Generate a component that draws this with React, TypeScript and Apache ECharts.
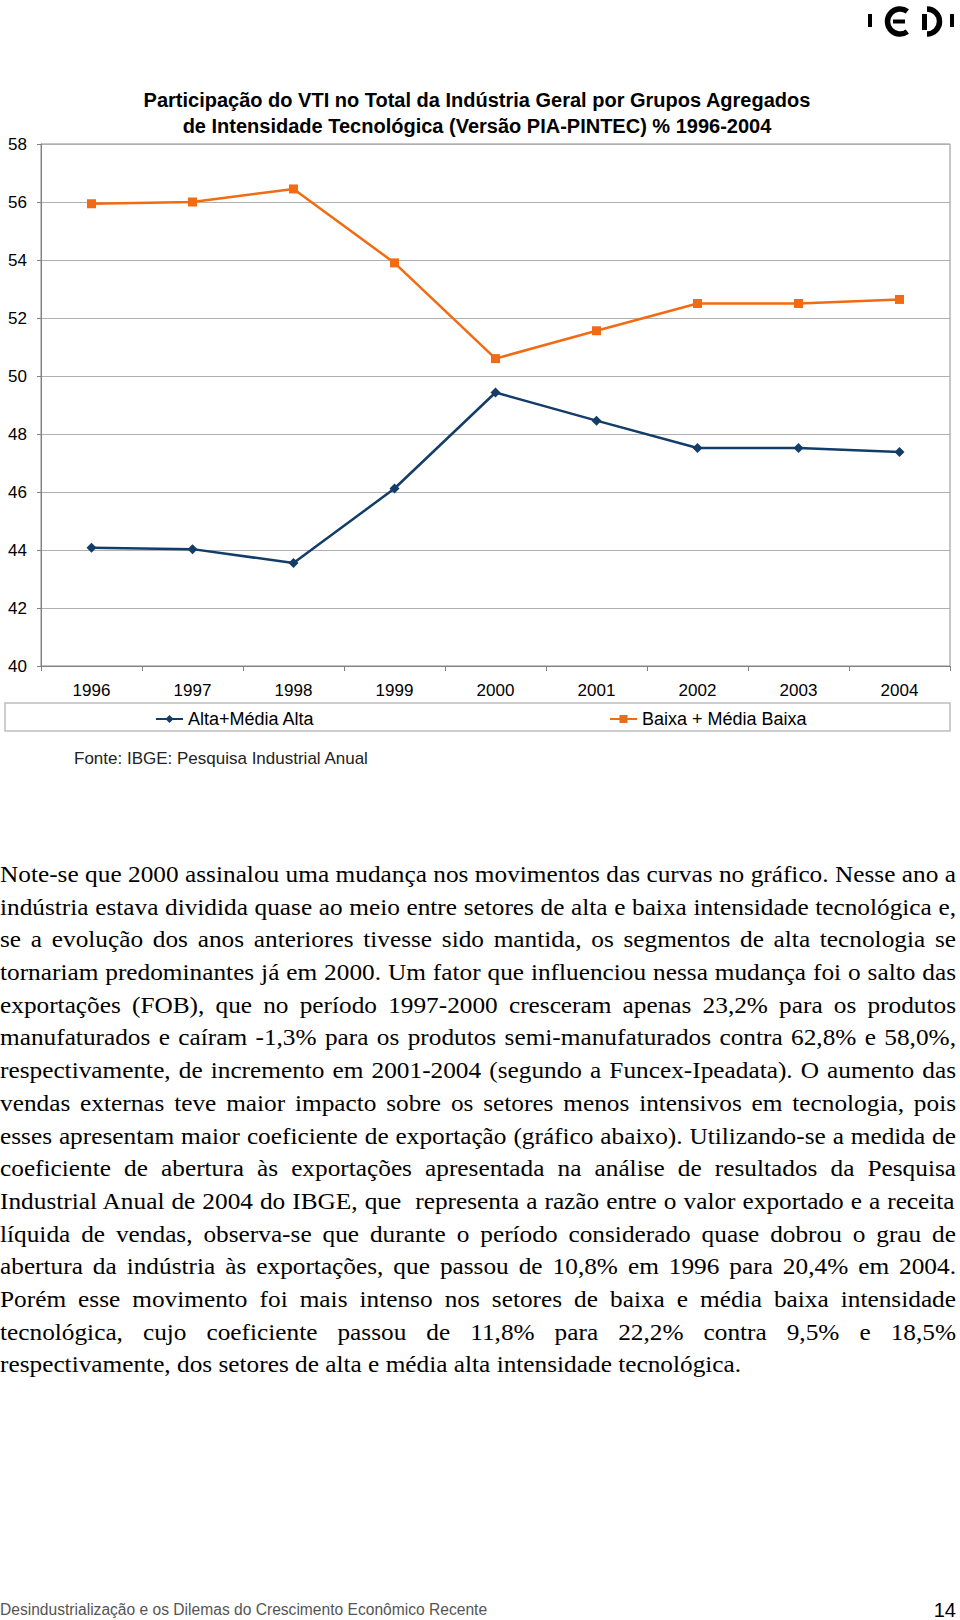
import React, { useEffect, useRef, useMemo } from 'react';
import * as echarts from 'echarts';

const years = ['1996', '1997', '1998', '1999', '2000', '2001', '2002', '2003', '2004'];
const altaMediaAlta = [44.08, 44.03, 43.55, 46.12, 49.43, 48.46, 47.52, 47.52, 47.38];
const baixaMediaBaixa = [55.94, 56.0, 56.45, 53.9, 50.6, 51.56, 52.5, 52.5, 52.64];
const seriesNames = ['Alta+Média Alta', 'Baixa + Média Baixa'];
const titleLines = [
  'Participação do VTI no Total da Indústria Geral por Grupos Agregados',
  'de Intensidade Tecnológica (Versão PIA-PINTEC) % 1996-2004',
];
const sourceText = 'Fonte: IBGE: Pesquisa Industrial Anual';
const footerText = 'Desindustrialização e os Dilemas do Crescimento Econômico Recente';
const pageNumber = '14';
const paragraphLines = [
  'Note-se que 2000 assinalou uma mudança nos movimentos das curvas no gráfico. Nesse ano a',
  'indústria estava dividida quase ao meio entre setores de alta e baixa intensidade tecnológica e,',
  'se a evolução dos anos anteriores tivesse sido mantida, os segmentos de alta tecnologia se',
  'tornariam predominantes já em 2000. Um fator que influenciou nessa mudança foi o salto das',
  'exportações (FOB), que no período 1997-2000 cresceram apenas 23,2% para os produtos',
  'manufaturados e caíram -1,3% para os produtos semi-manufaturados contra 62,8% e 58,0%,',
  'respectivamente, de incremento em 2001-2004 (segundo a Funcex-Ipeadata). O aumento das',
  'vendas externas teve maior impacto sobre os setores menos intensivos em tecnologia, pois',
  'esses apresentam maior coeficiente de exportação (gráfico abaixo). Utilizando-se a medida de',
  'coeficiente de abertura às exportações apresentada na análise de resultados da Pesquisa',
  'Industrial Anual de 2004 do IBGE, que  representa a razão entre o valor exportado e a receita',
  'líquida de vendas, observa-se que durante o período considerado quase dobrou o grau de',
  'abertura da indústria às exportações, que passou de 10,8% em 1996 para 20,4% em 2004.',
  'Porém esse movimento foi mais intenso nos setores de baixa e média baixa intensidade',
  'tecnológica, cujo coeficiente passou de 11,8% para 22,2% contra 9,5% e 18,5%',
  'respectivamente, dos setores de alta e média alta intensidade tecnológica.',
];

const SANS = '"Liberation Sans", Arial, sans-serif';
const SERIF = '"Liberation Serif", "Times New Roman", serif';
const BLUE = '#123d68';
const ORANGE = '#f26b12';

const PARA_FONT = 23;
const PARA_SCALE = 1.1;
const PARA_WIDTH = 956;

export default function App() {
  const ref = useRef<HTMLDivElement>(null);

  const spacings = useMemo(() => {
    const canvas = document.createElement('canvas');
    const ctx = canvas.getContext('2d');
    const inner = PARA_WIDTH / PARA_SCALE;
    return paragraphLines.map((t, i) => {
      if (!ctx || i === paragraphLines.length - 1) return 0;
      ctx.font = `${PARA_FONT}px "Liberation Serif"`;
      const w = ctx.measureText(t).width;
      const n = (t.match(/ /g) || []).length;
      return n > 0 ? (inner - w) / n : 0;
    });
  }, []);

  useEffect(() => {
    if (!ref.current) return;
    const chart = echarts.init(ref.current, null, { renderer: 'svg' });
    const legendCommon = {
      top: 710,
      padding: 0,
      itemWidth: 27,
      itemHeight: 10,
      itemGap: 10,
      textStyle: { fontSize: 18, color: '#000', fontFamily: SANS },
    };
    chart.setOption({
      animation: false,
      backgroundColor: '#fff',
      textStyle: { fontFamily: SANS },
      grid: {
        left: 41,
        top: 144,
        width: 909,
        height: 522,
        show: true,
        borderColor: '#8c8c8c',
        borderWidth: 1,
      },
      legend: [
        { ...legendCommon, left: 155, data: [seriesNames[0]] },
        { ...legendCommon, left: 609, data: [seriesNames[1]] },
      ],
      xAxis: {
        type: 'category',
        data: years,
        boundaryGap: true,
        axisLine: { lineStyle: { color: '#808080', width: 1 } },
        axisTick: { show: true, length: 5, lineStyle: { color: '#808080' } },
        axisLabel: { fontSize: 17, color: '#000', margin: 16, fontFamily: SANS },
      },
      yAxis: {
        type: 'value',
        min: 40,
        max: 58,
        interval: 2,
        axisLine: { show: true, lineStyle: { color: '#808080', width: 1 } },
        axisTick: { show: true, length: 4, lineStyle: { color: '#808080' } },
        axisLabel: { fontSize: 17, color: '#000', margin: 14, fontFamily: SANS },
        splitLine: { show: true, lineStyle: { color: '#b0b0b0', width: 1 } },
      },
      series: [
        {
          name: seriesNames[0],
          type: 'line',
          data: altaMediaAlta,
          symbol: 'diamond',
          symbolSize: 10,
          color: BLUE,
          lineStyle: { color: BLUE, width: 2.5 },
          itemStyle: { color: BLUE },
        },
        {
          name: seriesNames[1],
          type: 'line',
          data: baixaMediaBaixa,
          symbol: 'rect',
          symbolSize: 9,
          color: ORANGE,
          lineStyle: { color: ORANGE, width: 2.5 },
          itemStyle: { color: ORANGE },
        },
      ],
      graphic: [
        // logo
        { type: 'rect', shape: { x: 868, y: 14, width: 4, height: 13 }, style: { fill: '#000' } },
        {
          type: 'arc',
          shape: { cx: 900, cy: 21.5, r: 12.5, startAngle: Math.PI * 0.3, endAngle: Math.PI * 1.7, clockwise: true },
          style: { stroke: '#000', lineWidth: 5.5, fill: 'none' },
        },
        { type: 'rect', shape: { x: 893, y: 19.5, width: 12, height: 4 }, style: { fill: '#000' } },
        { type: 'rect', shape: { x: 922, y: 14, width: 5, height: 16 }, style: { fill: '#000' } },
        {
          type: 'arc',
          shape: { cx: 927, cy: 21.5, r: 12.5, startAngle: -Math.PI * 0.5, endAngle: Math.PI * 0.5, clockwise: true },
          style: { stroke: '#000', lineWidth: 5.5, fill: 'none' },
        },
        { type: 'rect', shape: { x: 950, y: 14, width: 4, height: 13 }, style: { fill: '#000' } },
        // title
        {
          type: 'text', x: 477, y: 100,
          style: { text: titleLines[0], font: `bold 20px ${SANS}`, fill: '#000', textAlign: 'center', textVerticalAlign: 'middle', verticalAlign: 'middle' },
        },
        {
          type: 'text', x: 477, y: 126,
          style: { text: titleLines[1], font: `bold 20px ${SANS}`, fill: '#000', textAlign: 'center', textVerticalAlign: 'middle', verticalAlign: 'middle' },
        },
        // legend box
        {
          type: 'rect', z: -1,
          shape: { x: 5, y: 703, width: 945, height: 28 },
          style: { fill: 'none', stroke: '#bdbdbd', lineWidth: 1.5 },
        },
        // source
        {
          type: 'text', x: 74, y: 758.5,
          style: { text: sourceText, font: `17px ${SANS}`, fill: '#222', textAlign: 'left', textVerticalAlign: 'middle', verticalAlign: 'middle' },
        },
        // footer
        {
          type: 'text', x: 0, y: 1609,
          style: { text: footerText, font: `15.6px ${SANS}`, fill: '#555', textAlign: 'left', textVerticalAlign: 'middle', verticalAlign: 'middle' },
        },
        {
          type: 'text', x: 956, y: 1610,
          style: { text: pageNumber, font: `20px ${SANS}`, fill: '#000', textAlign: 'right', textVerticalAlign: 'middle', verticalAlign: 'middle' },
        },
      ],
    });
    return () => chart.dispose();
  }, []);

  const lineH = 32.7;
  const firstCenter = 875.3;

  return (
    <div style={{ position: 'absolute', left: 0, top: 0, width: 960, height: 1620, background: '#fff' }}>
      <div ref={ref} style={{ position: 'absolute', left: 0, top: 0, width: 960, height: 1620 }} />
      {paragraphLines.map((t, i) => (
        <div
          key={i}
          style={{
            position: 'absolute',
            left: 0,
            top: firstCenter - lineH / 2 + i * lineH,
            width: PARA_WIDTH / PARA_SCALE,
            height: lineH,
            lineHeight: `${lineH}px`,
            fontFamily: SERIF,
            fontSize: PARA_FONT,
            color: '#000',
            whiteSpace: 'pre',
            wordSpacing: `${spacings[i]}px`,
            transform: `scaleX(${PARA_SCALE})`,
            transformOrigin: 'left center',
          }}
        >
          {t}
        </div>
      ))}
    </div>
  );
}
